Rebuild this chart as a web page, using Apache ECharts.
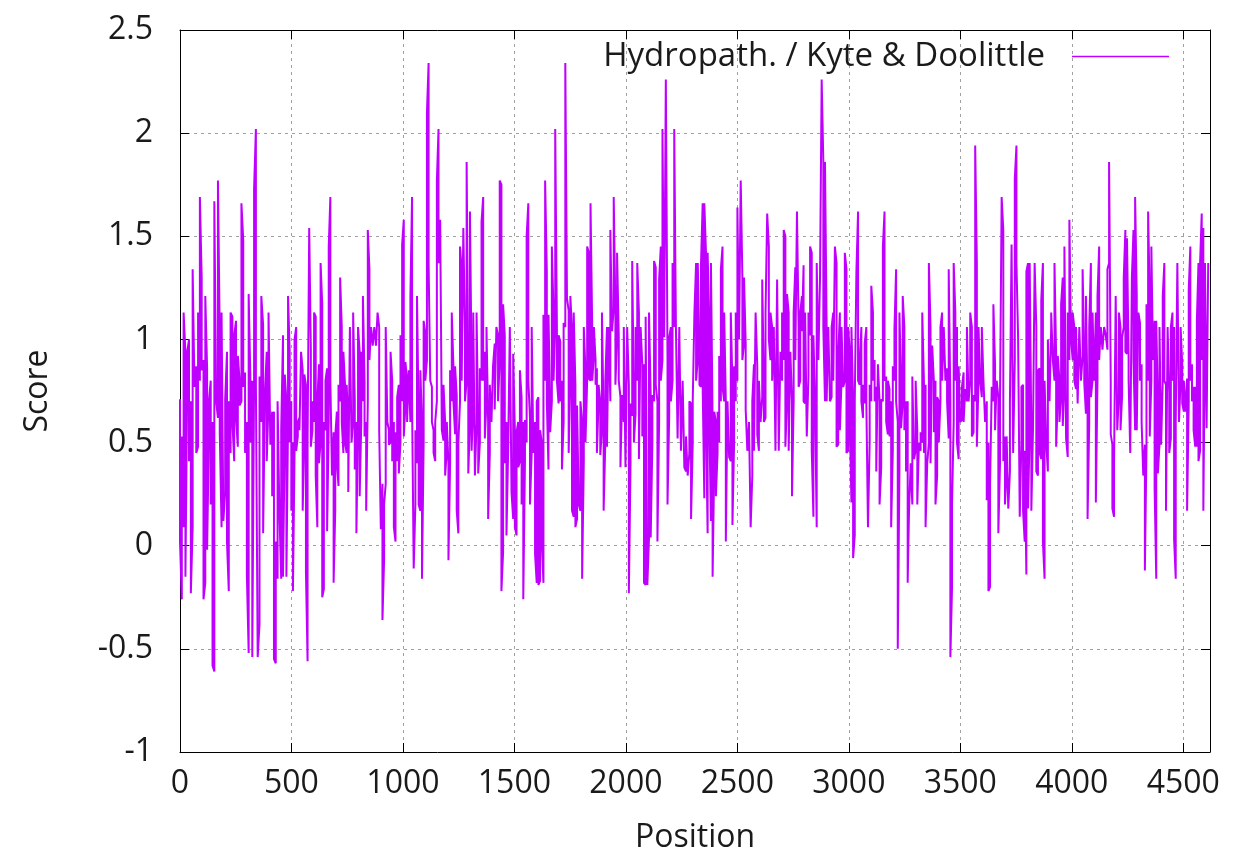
<!DOCTYPE html>
<html><head><meta charset="utf-8">
<script src="https://cdn.jsdelivr.net/npm/echarts@6/dist/echarts.min.js"></script>
<style>html,body{margin:0;padding:0;background:#fff}#c{width:1233px;height:864px}</style>
</head><body><div id="c"></div>
<script>
const seriesName = 'Hydropath. / Kyte & Doolittle';
const xTitle = 'Position';
const yTitle = 'Score';
const xMax = 4620;
const yTicks = [-1, -0.5, 0, 0.5, 1, 1.5, 2, 2.5];

// first and last residue position covered by each block of read-off strokes
const blockStart = [0, 470, 937, 1404, 1870, 2337, 2804, 3270, 3737, 4204];
const blockEnd   = [462, 930, 1397, 1864, 2330, 2797, 3264, 3730, 4197, 4612];

// each entry: [highest, lowest] score reached in a narrow window of positions (left to right)
const span1 = [[0.71,0.02],[0.53,-0.26],[1.13,0.09],[0.94,-0.15],[0.94,0.78],[1.00,0.41],[0.70,-0.23],[1.34,0.09],[1.34,0.77],[0.87,0.45],[1.13,0.48],[1.69,0.80],[1.30,0.85],[0.90,-0.26],[1.21,-0.18],[0.86,-0.02],[0.70,0.53],[0.80,0.20],[0.60,-0.58],[1.67,-0.61],[1.67,0.70],[1.77,0.62],[1.02,0.55],[1.13,0.09],[1.13,0.12],[0.71,0.26],[0.94,0.02],[0.70,-0.22],[1.13,0.45],[1.11,0.60],[1.02,0.41],[1.09,0.62],[0.92,0.48],[0.80,0.68],[1.66,0.70],[1.48,0.77],[0.84,0.45],[0.60,-0.14],[1.22,-0.52],[0.79,0.50],[0.80,-0.54],[1.73,0.80],[2.02,0.78],[0.78,-0.54],[0.82,-0.38],[1.21,0.60],[1.07,0.06],[0.74,0.06],[0.94,0.41],[1.13,0.70],[1.13,0.49],[0.65,0.24],[0.65,-0.55],[0.02,-0.57],[0.70,-0.16],[0.70,0.17],[0.56,-0.16],[1.02,-0.15]];
const span2 = [[0.83,0.53],[0.70,-0.15],[1.21,0.60],[0.94,0.50],[0.70,0.17],[0.50,-0.22],[1.00,0.45],[1.06,0.46],[0.60,0.53],[0.62,0.56],[0.94,0.56],[0.85,0.17],[0.83,0.50],[0.78,-0.13],[0.50,-0.56],[1.54,0.50],[0.95,0.48],[0.70,0.56],[1.13,0.60],[1.11,0.34],[0.70,0.09],[0.88,0.40],[1.37,0.50],[1.17,-0.25],[0.60,-0.21],[0.80,0.56],[0.86,0.07],[1.45,0.60],[1.69,0.80],[0.80,0.34],[0.55,-0.18],[0.53,0.17],[0.65,0.40],[0.78,0.29],[1.30,0.70],[1.06,0.60],[0.94,0.45],[0.78,0.50],[0.78,0.45],[0.60,0.26],[1.06,0.26],[1.06,0.50],[1.13,0.60],[0.70,0.37],[0.60,0.06],[1.06,0.60],[0.94,0.24],[0.94,0.60],[1.21,0.70],[0.80,0.53],[0.60,0.17],[1.53,0.70],[1.34,0.90],[1.06,0.90],[1.06,0.97],[1.06,0.97],[1.06,0.97],[1.13,0.97],[1.06,0.56],[0.56,0.08],[0.30,-0.36],[0.20,-0.07],[1.06,0.30],[1.06,0.60]];
const span3 = [[0.56,0.49],[0.94,0.50],[0.80,0.41],[0.60,0.09],[0.55,0.02],[0.72,0.41],[0.78,0.35],[1.02,0.50],[1.46,0.70],[1.58,0.53],[0.89,0.68],[0.80,0.60],[0.85,0.60],[1.21,0.60],[1.69,0.70],[0.70,-0.11],[0.56,0.20],[1.21,0.40],[0.60,0.20],[0.85,0.17],[0.60,-0.16],[1.09,0.50],[1.03,0.80],[2.10,0.90],[2.34,1.37],[1.37,0.80],[0.77,0.60],[0.56,0.45],[0.60,0.41],[1.77,0.70],[2.02,1.37],[1.58,1.37],[1.58,0.56],[0.78,0.51],[0.60,0.34],[0.60,0.46],[0.40,-0.07],[0.85,0.40],[1.13,0.70],[0.87,0.70],[0.87,0.54],[0.73,0.17],[0.50,0.06],[1.45,0.70],[1.34,0.80],[1.54,0.80],[1.02,0.70],[1.86,0.80],[0.80,0.35],[1.62,0.60],[0.86,0.46],[1.13,0.70],[1.13,0.34],[1.13,0.60],[0.56,0.35],[0.86,0.50],[1.57,0.80],[1.69,0.80],[0.94,0.52],[1.06,0.70],[0.60,0.13],[0.78,0.45],[0.78,0.60]];
const span4 = [[0.87,0.60],[0.98,0.66],[1.06,0.66],[1.02,0.70],[1.77,0.90],[1.75,-0.22],[1.17,-0.03],[1.02,0.40],[0.60,0.05],[0.46,0.05],[1.06,0.46],[1.06,0.26],[0.93,0.13],[0.56,0.09],[0.55,0.05],[0.60,0.38],[0.85,0.41],[0.72,0.20],[0.60,-0.26],[0.61,0.41],[1.50,0.50],[1.66,0.80],[0.62,0.20],[1.06,0.45],[1.06,0.45],[0.60,-0.04],[0.70,-0.18],[0.72,-0.19],[0.56,-0.17],[0.50,0.02],[1.12,-0.18],[1.77,0.80],[1.33,0.70],[1.12,0.37],[0.66,0.55],[1.45,0.70],[1.13,0.80],[2.02,1.06],[1.06,0.80],[1.02,0.69],[0.99,0.70],[0.80,0.37],[1.08,0.60],[2.34,1.06],[2.34,1.20],[1.14,0.45],[1.21,0.80],[1.04,0.17],[1.13,0.14],[0.78,0.09],[0.68,0.13],[0.68,0.20],[0.70,0.17],[0.60,-0.16],[1.06,0.41],[0.85,0.50],[1.45,0.80],[1.42,0.81],[1.66,0.80],[1.06,0.80],[1.06,0.92],[0.90,0.78]];
const span5 = [[0.86,0.45],[0.78,0.70],[0.70,0.44],[1.13,0.56],[0.60,0.17],[0.80,0.50],[1.06,0.48],[1.06,0.48],[1.53,0.70],[1.53,1.04],[1.69,1.15],[1.15,0.78],[1.42,1.01],[1.01,0.80],[0.72,0.38],[0.73,0.38],[1.06,0.60],[1.06,0.38],[1.06,0.38],[0.78,-0.23],[0.69,0.40],[1.38,0.63],[0.70,0.50],[1.06,0.64],[1.37,0.80],[1.13,0.42],[1.06,0.42],[0.88,0.53],[0.88,-0.18],[1.11,-0.19],[1.11,-0.19],[1.13,0.04],[0.72,0.04],[0.73,0.50],[1.38,0.70],[1.35,0.78],[0.70,0.02],[1.29,0.60],[1.45,0.80],[2.02,0.90],[2.02,1.01],[2.26,1.01],[0.90,0.20],[1.01,0.63],[1.06,0.70],[1.37,0.80],[2.02,1.06],[2.02,1.06],[1.06,0.52],[1.06,0.52],[1.06,0.46],[0.80,0.46],[0.80,0.38],[0.53,0.36],[0.53,0.34],[0.70,0.45],[0.69,0.13],[0.70,0.50],[1.13,0.70],[1.37,0.80],[1.37,0.90],[0.95,0.78]];
const span6 = [[1.37,0.77],[1.66,0.77],[1.66,0.23],[1.42,0.60],[1.42,0.06],[1.08,0.60],[1.37,0.12],[0.60,-0.15],[0.65,0.40],[0.60,0.24],[0.65,0.45],[0.92,0.50],[1.34,0.70],[1.45,0.77],[1.13,0.70],[0.70,0.02],[0.70,0.02],[0.70,0.43],[1.13,0.41],[0.78,0.10],[0.87,0.50],[1.13,0.70],[1.64,0.80],[1.64,1.00],[1.77,1.00],[1.30,0.90],[1.30,0.98],[0.98,0.66],[0.66,0.46],[0.60,0.46],[0.60,0.09],[0.70,0.34],[0.88,0.46],[1.13,0.46],[0.87,0.54],[0.80,0.46],[0.80,0.60],[1.29,0.72],[0.80,0.60],[1.13,0.62],[1.61,1.13],[1.45,1.00],[1.13,0.90],[1.06,0.80],[1.06,0.80],[1.06,0.46],[1.29,0.46],[1.29,0.46],[0.94,0.46],[1.13,0.80],[1.53,0.90],[1.50,0.48],[1.22,0.70],[1.13,0.46],[0.94,0.46],[0.70,0.24],[1.13,0.70],[1.35,0.90],[1.62,0.90],[1.06,0.77],[1.13,0.80],[1.21,1.04],[1.36,0.70]];
const span7 = [[1.13,0.69],[1.13,0.53],[1.13,0.82],[1.45,1.02],[1.42,0.46],[1.02,0.14],[1.02,0.70],[1.37,0.09],[1.37,0.90],[1.30,0.90],[2.26,1.30],[1.86,1.06],[1.86,0.70],[1.06,0.70],[1.06,0.70],[1.06,0.70],[1.06,0.72],[1.13,0.80],[1.45,0.80],[1.37,0.48],[0.92,0.49],[1.13,0.56],[1.06,0.80],[1.06,0.77],[1.42,0.80],[1.34,0.45],[1.06,0.46],[0.94,0.60],[1.06,0.21],[0.70,-0.06],[0.70,0.05],[1.33,0.70],[1.62,0.80],[0.90,0.78],[1.06,0.70],[0.78,0.62],[0.98,0.69],[1.06,0.70],[0.70,0.09],[0.78,0.50],[1.26,0.70],[1.13,0.80],[0.90,0.70],[0.77,0.36],[0.88,0.36],[0.70,0.20],[0.71,0.38],[1.45,0.70],[1.62,0.80],[0.82,0.60],[0.80,0.54],[0.76,0.53],[0.70,0.09],[0.87,0.46],[1.05,0.80],[1.34,0.70],[0.60,-0.50],[1.13,0.36],[0.80,0.57],[1.21,0.70],[1.06,0.56],[0.70,0.36],[0.70,-0.18]];
const span8 = [[0.17,-0.18],[0.40,0.17],[0.82,0.20],[0.82,0.42],[0.80,0.46],[0.56,0.20],[0.50,0.20],[0.55,0.46],[1.13,0.50],[0.80,0.45],[0.78,0.09],[0.40,0.09],[1.37,0.50],[1.06,0.40],[0.97,0.40],[0.80,0.55],[0.80,0.20],[0.72,0.34],[0.70,0.50],[1.06,0.70],[1.13,0.80],[1.06,0.80],[1.06,0.80],[0.86,0.70],[1.34,0.52],[0.70,-0.54],[0.20,-0.20],[1.37,0.60],[1.13,0.80],[1.06,0.50],[0.87,0.42],[0.87,0.60],[0.77,0.61],[0.84,0.60],[0.76,0.60],[1.06,0.70],[1.06,0.70],[1.13,0.80],[1.06,0.53],[0.73,0.55],[1.94,0.70],[1.37,0.48],[1.06,0.80],[1.06,0.80],[1.06,0.72],[1.06,0.80],[0.80,0.60],[0.70,0.22],[0.50,-0.22],[0.30,-0.20],[0.77,0.30],[1.17,0.70],[0.88,0.56],[0.80,0.56],[0.72,0.06],[0.70,0.40],[1.69,0.70],[1.53,0.41],[0.53,0.20],[0.53,0.37],[0.53,0.18],[0.70,0.36],[1.46,0.70]];
const span9 = [[1.46,0.45],[1.78,0.90],[1.94,1.37],[1.37,1.01],[1.01,0.14],[0.77,0.50],[0.78,0.17],[0.46,0.02],[1.33,-0.14],[1.37,0.18],[1.37,0.56],[0.56,0.17],[0.56,0.17],[1.37,0.56],[1.06,0.36],[0.85,0.34],[0.86,0.45],[1.19,0.42],[1.37,0.02],[0.80,-0.16],[0.80,0.50],[1.00,0.36],[1.00,0.70],[1.13,1.06],[1.13,0.90],[1.37,0.80],[0.92,0.48],[0.92,0.72],[0.80,0.60],[1.17,0.72],[1.30,0.58],[1.45,0.80],[1.45,0.52],[1.13,0.43],[1.58,0.90],[1.58,1.00],[1.13,0.90],[1.06,0.80],[1.06,0.76],[1.06,0.69],[1.06,0.69],[1.06,0.80],[1.34,0.92],[0.92,0.79],[1.21,0.64],[0.70,0.13],[1.06,0.60],[1.37,0.72],[1.13,0.80],[1.13,0.80],[1.13,0.21],[1.21,0.80],[1.45,0.90],[1.06,0.90],[1.06,0.95],[1.06,0.95],[1.06,1.02],[1.34,0.95],[1.86,1.37],[0.80,0.54],[0.49,0.18],[0.40,0.14],[1.21,0.40]];
const span10 = [[1.21,0.56],[1.13,0.73],[1.06,0.56],[1.01,0.73],[1.30,1.06],[1.53,0.94],[1.49,0.93],[0.90,0.80],[0.80,0.45],[1.30,0.45],[1.53,0.90],[1.69,0.56],[1.21,0.56],[1.13,0.56],[1.08,0.80],[0.88,0.60],[0.60,0.34],[0.49,-0.12],[1.17,0.48],[1.62,0.80],[1.20,0.53],[1.45,0.80],[1.45,0.90],[1.09,0.28],[1.09,-0.16],[0.70,0.35],[1.06,0.49],[1.06,0.49],[1.21,0.80],[1.37,0.80],[0.78,0.17],[1.06,0.17],[0.74,0.45],[1.06,0.52],[1.13,0.80],[1.06,0.03],[0.60,-0.16],[1.37,0.60],[1.37,0.60],[1.06,0.80],[0.88,0.69],[0.80,0.65],[0.80,0.65],[0.81,0.17],[1.24,0.70],[1.45,0.80],[0.88,0.70],[0.77,0.56],[0.77,0.48],[1.09,0.48],[1.37,0.41],[1.37,0.46],[1.61,0.90],[1.54,0.17],[1.37,1.06],[1.37,0.57],[1.37,0.57]];

const blocks = [span1, span2, span3, span4, span5, span6, span7, span8, span9, span10];
// draw each window as a vertical stroke, entering from the end nearer the previous stroke
const points = [];
let prev = null;
blocks.forEach((blk, b) => {
  const gap = (blockEnd[b] - blockStart[b]) / (blk.length - 1);
  blk.forEach(([hi, lo], i) => {
    const x = blockStart[b] + i * gap;
    if (prev !== null && Math.abs(prev - lo) < Math.abs(prev - hi)) {
      points.push([x, lo], [x, hi]); prev = hi;
    } else {
      points.push([x, hi], [x, lo]); prev = lo;
    }
  });
});

const FONT = 'Open Sans';
const FS = 32;
const TXT = '#1a1a1a';
const gridLine = { show: true, lineStyle: { color: '#a0a0a0', type: [3, 4], width: 1 } };

const chart = echarts.init(document.getElementById('c'), null, { renderer: 'canvas' });
chart.setOption({
  animation: false,
  backgroundColor: '#fff',
  textStyle: { fontFamily: FONT },
  grid: { left: 180, right: 23, top: 30, bottom: 112, containLabel: false },
  legend: {
    data: [{ name: seriesName, icon: 'rect' }], right: 59, top: 35, align: 'right',
    itemWidth: 97, itemHeight: 1.5,
    textStyle: { fontFamily: FONT, fontSize: 33, color: TXT, padding: [0, 22, 0, 0] }
  },
  xAxis: [{
    type: 'value', min: 0, max: xMax, interval: 500,
    name: xTitle, nameLocation: 'middle', nameGap: 70,
    nameTextStyle: { fontFamily: FONT, fontSize: FS, color: TXT },
    axisLine: { show: true, onZero: false, lineStyle: { color: '#000', width: 1 } },
    axisTick: { show: true, inside: true, length: 9, lineStyle: { color: '#000' } },
    axisLabel: { fontFamily: FONT, fontSize: FS, color: TXT, margin: 16, showMaxLabel: false,
      formatter: v => String(v) },
    splitLine: gridLine
  }, {
    type: 'value', min: 0, max: xMax, interval: 500, position: 'top',
    axisLine: { show: true, onZero: false, lineStyle: { color: '#000', width: 1 } },
    axisTick: { show: true, inside: true, length: 9, lineStyle: { color: '#000' } },
    axisLabel: { show: false }, splitLine: { show: false }
  }],
  yAxis: [{
    type: 'value', min: yTicks[0], max: yTicks[yTicks.length - 1], interval: 0.5,
    name: yTitle, nameLocation: 'middle', nameGap: 126, nameRotate: 90,
    nameTextStyle: { fontFamily: FONT, fontSize: FS, color: TXT },
    axisLine: { show: true, onZero: false, lineStyle: { color: '#000', width: 1 } },
    axisTick: { show: true, inside: true, length: 9, lineStyle: { color: '#000' } },
    axisLabel: { fontFamily: FONT, fontSize: FS, color: TXT, margin: 27, formatter: v => String(v) },
    splitLine: gridLine
  }, {
    type: 'value', min: yTicks[0], max: yTicks[yTicks.length - 1], interval: 0.5, position: 'right',
    axisLine: { show: true, onZero: false, lineStyle: { color: '#000', width: 1 } },
    axisTick: { show: true, inside: true, length: 9, lineStyle: { color: '#000' } },
    axisLabel: { show: false }, splitLine: { show: false }
  }],
  series: [{
    name: seriesName, type: 'line', data: points, xAxisIndex: 0, yAxisIndex: 0,
    symbol: 'none', showSymbol: false, clip: true, sampling: null,
    lineStyle: { color: '#c000ff', width: 2 },
    itemStyle: { color: '#c000ff' }
  }]
});
</script></body></html>
